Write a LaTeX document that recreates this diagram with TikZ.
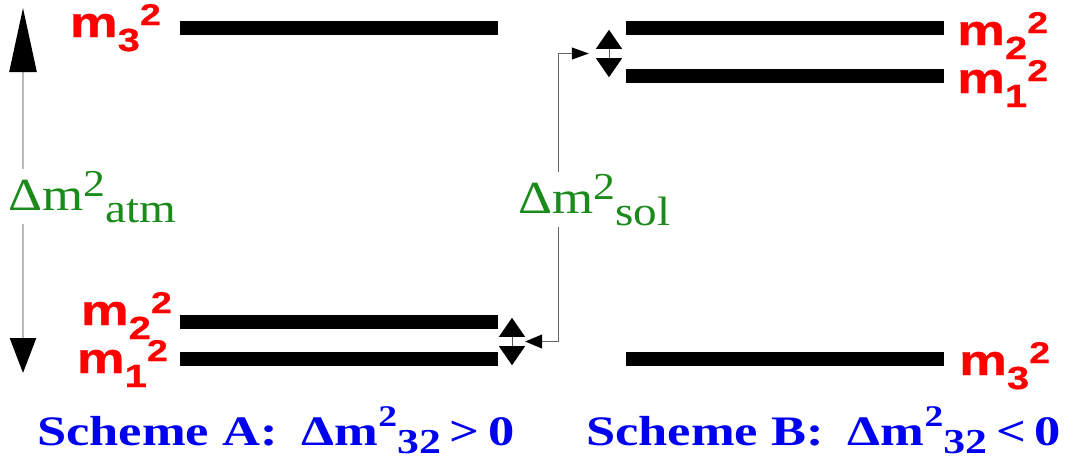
\documentclass[tikz,border=0pt]{standalone}
\usepackage{fontspec}
\usepackage{tikz}
\usetikzlibrary{arrows.meta,positioning}
\setmainfont{Liberation Serif}
\newfontfamily\massfont{Liberation Sans}[FakeStretch=1.25,FakeBold=0.6]
\newfontfamily\dmfont{Liberation Serif}[FakeStretch=1.15]
\newfontfamily\schfont{Liberation Serif}[FakeStretch=1.25]
\definecolor{mass}{HTML}{FF0000}
\definecolor{split}{HTML}{1A8A1A}
\definecolor{scheme}{HTML}{0000F0}
\newcommand\msq[1]{m\raisebox{-14pt}{\fontsize{32}{32}\selectfont #1}\raisebox{12pt}{\fontsize{30}{30}\selectfont 2}}
\newcommand\dmg[1]{Δm\raisebox{14pt}{\fontsize{38}{38}\selectfont 2}\raisebox{-12pt}{\fontsize{41}{41}\selectfont #1}}
\newcommand\dmb{Δm\raisebox{19pt}{\fontsize{30}{30}\selectfont 2}\raisebox{-8pt}{\fontsize{35}{35}\selectfont 32}}

\begin{document}
\begin{tikzpicture}[x=1pt,y=-1pt,
  lev/.style={fill=black,inner sep=0pt,minimum width=318pt,minimum height=14pt},
  lvl/.style={font=\massfont\bfseries\fontsize{43}{43}\selectfont,text=mass,inner sep=0pt},
  dm/.style={font=\dmfont\fontsize{46}{46}\selectfont,text=split,fill=white,inner sep=2pt},
  sch/.style={font=\schfont\bfseries\fontsize{42}{42}\selectfont,text=scheme,inner sep=0pt},
  splitbox/.style={inner sep=0pt,minimum width=26pt,minimum height=47pt},
  dbl/.style={line width=1pt,gray!70!black,{Triangle[length=19pt,width=26pt,color=black,fill=black]}-{Triangle[length=19pt,width=26pt,color=black,fill=black]}},
  atm/.style={line width=2.5pt,gray!55,{Triangle[length=35pt,width=26pt,color=black,fill=black]}-{Triangle[length=64pt,width=27pt,color=black,fill=black]}},
  sol/.style={line width=1pt,gray!80!black,{Triangle[length=17pt,width=14pt,color=black,fill=black]}-{Triangle[length=17pt,width=12pt,color=black,fill=black]}}]
\useasboundingbox (0,0) rectangle (1078,464);
% scheme A levels
\node[lev] (a3) at (338.5,28) {};
\node[lev] (a2) at (338.5,322) {};
\node[lev] (a1) at (338.5,358.5) {};
% scheme B levels
\node[lev] (b2) at (785,28) {};
\node[lev] (b1) at (785,76) {};
\node[lev] (b3) at (785,359) {};
\node[lvl,anchor=base east] (la3) at (161,37) {\msq{3}};
\node[lvl,anchor=base east] (la2) at (172,325) {\msq{2}};
\node[lvl,anchor=base east] (la1) at (168,373) {\msq{1}};
\node[lvl,anchor=base west] (lb2) at (957,45) {\msq{2}};
\node[lvl,anchor=base west] (lb1) at (957,93) {\msq{1}};
\node[lvl,anchor=base west] (lb3) at (959,375) {\msq{3}};
% splittings
\node[splitbox] (sa) at (512,341.5) {};
\node[splitbox] (sb) at (609,53.5) {};
\draw[dbl] (sa.north) -- (sa.south);
\draw[dbl] (sb.north) -- (sb.south);
\draw[sol] (sa.east) -- ++(33,0) |- ([xshift=-7pt]sb.west);
\node[dm,anchor=base west] (dsol) at (516,213) {\dmg{sol}};
\coordinate (atlo) at (23,373);
\coordinate (athi) at (23,8);
\draw[atm] (atlo) -- (athi);
\node[dm,anchor=base west] (datm) at (6,210) {\dmg{atm}};
% captions
\node[sch,anchor=base west] (scha) at (37,445) {Scheme A:\hspace{24pt}\dmb\hspace{9pt}>\hspace{9pt}0};
\node[sch,anchor=base west] (schb) at (586,445) {Scheme B:\hspace{24pt}\dmb\hspace{9pt}<\hspace{9pt}0};
\end{tikzpicture}
\end{document}
